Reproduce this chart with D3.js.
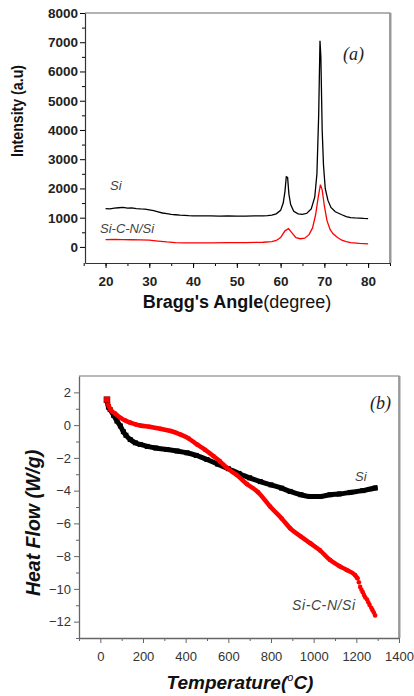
<!DOCTYPE html>
<html>
<head>
<meta charset="utf-8">
<script src="https://cdn.jsdelivr.net/npm/d3@7"></script>
<style>
  body { margin: 0; background: #fff; }
  svg { display: block; }
  .tick text { font-family: Arial, "Liberation Sans", sans-serif; }
</style>
</head>
<body>
<svg id="chart" width="414" height="696"></svg>
<script>
// ---- data ----
// (a) XRD patterns
const xrdAngleSi = [20, 21, 22, 23, 24, 25, 26, 27, 28, 29, 30, 31, 32, 33, 34, 35, 36, 37, 38, 39, 40, 42, 44, 46, 48, 50, 52, 54, 56, 57, 58, 59, 60, 60.6, 61, 61.3, 61.6, 61.9, 62.3, 63, 64, 65, 66, 67, 67.8, 68.3, 68.7, 69, 69.2, 69.5, 69.8, 70.2, 70.8, 71.5, 72.5, 74, 75, 76, 77, 78, 79, 80];
const xrdSi = [1310, 1300, 1330, 1340, 1350, 1330, 1335, 1310, 1300, 1295, 1270, 1240, 1200, 1160, 1135, 1110, 1100, 1085, 1080, 1070, 1065, 1060, 1065, 1050, 1060, 1050, 1055, 1060, 1060, 1070, 1090, 1130, 1250, 1500, 1900, 2400, 2380, 1800, 1450, 1220, 1130, 1110, 1150, 1300, 1700, 2500, 4500, 7050, 6500, 4000, 2800, 2000, 1600, 1350, 1200, 1100, 1040, 1000, 990, 985, 975, 970];
const xrdAngleSiCN = [20, 22, 24, 26, 28, 30, 32, 34, 36, 38, 40, 44, 48, 52, 56, 58, 59, 60, 61, 61.8, 62.5, 63.5, 64.5, 65.5, 66.5, 67.3, 68, 68.6, 69.1, 69.5, 70, 70.6, 71.3, 72, 73, 74, 75, 76, 78, 80];
const xrdSiCN = [250, 260, 250, 245, 240, 230, 200, 170, 150, 140, 140, 140, 145, 150, 160, 180, 220, 320, 550, 630, 500, 320, 280, 300, 420, 650, 1100, 1700, 2130, 1950, 1400, 900, 600, 450, 320, 230, 180, 150, 120, 105];

// (b) heat flow curves
const dscTempSi = [31, 38, 46, 62, 78, 94, 108, 120, 140, 164, 187, 220, 260, 312, 360, 406, 450, 500, 550, 600, 650, 700, 750, 800, 850, 890, 940, 984, 1030, 1077, 1120, 1171, 1230, 1288];
const dscSi = [1.5, 1.1, 0.95, 0.6, 0.25, -0.05, -0.4, -0.62, -0.88, -1.08, -1.18, -1.3, -1.4, -1.49, -1.58, -1.69, -1.85, -2.1, -2.38, -2.66, -2.95, -3.22, -3.45, -3.65, -3.85, -4.05, -4.25, -4.36, -4.36, -4.25, -4.2, -4.11, -4.0, -3.84];
const dscTempSiCN = [31, 40, 47, 70, 94, 117, 140, 164, 187, 230, 281, 330, 375, 415, 453, 490, 531, 560, 593, 640, 687, 740, 796, 850, 890, 940, 984, 1030, 1077, 1120, 1155, 1194, 1205, 1212, 1218, 1224, 1230, 1236, 1242, 1250, 1256, 1262, 1270, 1276, 1282, 1288];
const dscSiCN = [1.55, 1.17, 0.96, 0.7, 0.45, 0.28, 0.15, 0.05, -0.02, -0.1, -0.22, -0.36, -0.57, -0.82, -1.18, -1.5, -1.9, -2.2, -2.61, -3.05, -3.6, -4.1, -4.97, -5.7, -6.3, -6.8, -7.21, -7.65, -8.24, -8.6, -8.85, -9.16, -9.35, -9.6, -9.88, -10.05, -10.2, -10.38, -10.52, -10.65, -10.82, -10.98, -11.15, -11.3, -11.45, -11.62];

// ticks
const xTicksA = [20, 30, 40, 50, 60, 70, 80];
const yTicksA = [0, 1000, 2000, 3000, 4000, 5000, 6000, 7000, 8000];
const xTicksB = [0, 200, 400, 600, 800, 1000, 1200, 1400];
const yTicksB = [-12, -10, -8, -6, -4, -2, 0, 2];

const svg = d3.select("#chart");
const sans = 'Arial, "Liberation Sans", sans-serif';
const serif = '"Times New Roman", "Liberation Serif", serif';
const plain = d3.format("d");

// ================= panel (a) =================
const a = { left: 85, right: 390, top: 13, bottom: 263 };
const xA = d3.scaleLinear().domain([15.3, 85]).range([a.left, a.right]);
const yA = d3.scaleLinear().domain([-550, 8000]).range([a.bottom, a.top]);

// top / right frame
svg.append("path")
  .attr("d", `M${a.left},${a.top}H${a.right}V${a.bottom}`)
  .attr("fill", "none").attr("stroke", "#666").attr("stroke-width", 1.2);
svg.append("line")
  .attr("x1", a.right + 0.5).attr("x2", a.right + 0.5)
  .attr("y1", a.top).attr("y2", a.bottom)
  .attr("stroke", "#999").attr("stroke-width", 2);

// minor ticks
svg.append("g").attr("transform", `translate(${a.left},0)`)
  .call(d3.axisLeft(yA).tickValues(d3.range(500, 8000, 1000)).tickSize(3).tickSizeOuter(0).tickFormat(""))
  .call(g => g.select(".domain").remove());
svg.append("g").attr("transform", `translate(0,${a.bottom})`)
  .call(d3.axisBottom(xA).tickValues(d3.range(15, 86, 5)).tickSize(3).tickSizeOuter(0).tickFormat(""))
  .call(g => g.select(".domain").remove());

// major axes
const yAxisA = svg.append("g").attr("transform", `translate(${a.left},0)`)
  .call(d3.axisLeft(yA).tickValues(yTicksA).tickFormat(plain).tickSize(5).tickSizeOuter(0).tickPadding(2));
const xAxisA = svg.append("g").attr("transform", `translate(0,${a.bottom})`)
  .call(d3.axisBottom(xA).tickValues(xTicksA).tickFormat(plain).tickSize(5).tickSizeOuter(0).tickPadding(4));
[yAxisA, xAxisA].forEach(g => {
  g.selectAll("text").style("font-size", "13.5px").style("font-weight", "bold").attr("fill", "#222");
  g.select(".domain").attr("stroke", "#333").attr("stroke-width", 1.2);
});
xAxisA.selectAll("text").attr("dy", "1em");

const lineA = d3.line().x(d => xA(d[0])).y(d => yA(d[1]));
svg.append("path")
  .datum(d3.zip(xrdAngleSi, xrdSi))
  .attr("d", lineA).attr("fill", "none").attr("stroke", "#000").attr("stroke-width", 1.3);
svg.append("path")
  .datum(d3.zip(xrdAngleSiCN, xrdSiCN))
  .attr("d", lineA).attr("fill", "none").attr("stroke", "#ff0000").attr("stroke-width", 1.3);

// labels
svg.append("text")
  .attr("transform", "translate(23,111) rotate(-90)")
  .attr("text-anchor", "middle")
  .attr("textLength", 92).attr("lengthAdjust", "spacingAndGlyphs")
  .style("font-family", sans).style("font-weight", "bold").style("font-size", "17px")
  .attr("fill", "#111")
  .text("Intensity (a.u)");

const xtA = svg.append("text")
  .attr("x", 237).attr("y", 308).attr("text-anchor", "middle")
  .style("font-family", sans).style("font-size", "18px").attr("fill", "#111");
xtA.append("tspan").style("font-weight", "bold").text("Bragg's Angle");
xtA.append("tspan").text("(degree)");

svg.append("text").attr("x", 110).attr("y", 190)
  .style("font-family", sans).style("font-style", "italic").style("font-size", "13px")
  .attr("fill", "#444").text("Si");
svg.append("text").attr("x", 100).attr("y", 233)
  .style("font-family", sans).style("font-style", "italic").style("font-size", "13px")
  .attr("fill", "#444").text("Si-C-N/Si");
svg.append("text").attr("x", 343).attr("y", 60)
  .style("font-family", serif).style("font-style", "italic").style("font-size", "18px")
  .attr("fill", "#222").text("(a)");

// ================= panel (b) =================
const b = { left: 79, right: 399, top: 376, bottom: 638 };
const xB = d3.scaleLinear().domain([-100, 1400]).range([b.left, b.right]);
const yB = d3.scaleLinear().domain([-13, 3]).range([b.bottom, b.top]);

svg.append("path")
  .attr("d", `M${b.left},${b.top}H${b.right}V${b.bottom}`)
  .attr("fill", "none").attr("stroke", "#777").attr("stroke-width", 1.2);
svg.append("line")
  .attr("x1", b.right + 0.5).attr("x2", b.right + 0.5)
  .attr("y1", b.top).attr("y2", b.bottom)
  .attr("stroke", "#999").attr("stroke-width", 2);

svg.append("g").attr("transform", `translate(${b.left},0)`)
  .call(d3.axisLeft(yB).tickValues(d3.range(-13, 3, 2)).tickSize(3).tickSizeOuter(0).tickFormat(""))
  .call(g => g.select(".domain").remove())
  .selectAll("line").attr("stroke", "#666");
svg.append("g").attr("transform", `translate(0,${b.bottom})`)
  .call(d3.axisBottom(xB).tickValues(d3.range(-100, 1400, 200)).tickSize(3).tickSizeOuter(0).tickFormat(""))
  .call(g => g.select(".domain").remove())
  .selectAll("line").attr("stroke", "#666");

const yAxisB = svg.append("g").attr("transform", `translate(${b.left},0)`)
  .call(d3.axisLeft(yB).tickValues(yTicksB).tickFormat(plain).tickSize(5).tickSizeOuter(0).tickPadding(3));
const xAxisB = svg.append("g").attr("transform", `translate(0,${b.bottom})`)
  .call(d3.axisBottom(xB).tickValues(xTicksB).tickFormat(plain).tickSize(5).tickSizeOuter(0).tickPadding(5));
[yAxisB, xAxisB].forEach(g => {
  g.selectAll("text").style("font-size", "13px").attr("fill", "#333");
  g.selectAll(".tick line").attr("stroke", "#666");
  g.select(".domain").attr("stroke", "#666").attr("stroke-width", 1.3);
});
xAxisB.selectAll("text").attr("dy", "1em");

const siPts = d3.zip(dscTempSi, dscSi);
const sicnPts = d3.zip(dscTempSiCN, dscSiCN);
const lineB = d3.line().curve(d3.curveMonotoneX).x(d => xB(d[0])).y(d => yB(d[1]));

svg.append("path").datum(siPts).attr("d", lineB)
  .attr("fill", "none").attr("stroke", "#000").attr("stroke-width", 5).attr("stroke-linecap", "square");
svg.selectAll(".sq").data(siPts).join("rect").attr("class", "sq")
  .attr("x", d => xB(d[0]) - 2.5).attr("y", d => yB(d[1]) - 2.5)
  .attr("width", 5).attr("height", 5).attr("fill", "#000");

svg.append("path").datum(sicnPts.filter(d => d[0] <= 1206)).attr("d", lineB)
  .attr("fill", "none").attr("stroke", "#ff0000").attr("stroke-width", 4.5).attr("stroke-linecap", "round");
svg.selectAll(".dot").data(sicnPts).join("circle").attr("class", "dot")
  .attr("cx", d => xB(d[0])).attr("cy", d => yB(d[1]))
  .attr("r", 2.3).attr("fill", "#ff0000");
// first point drawn as a square (overlapping start)
svg.append("rect")
  .attr("x", xB(dscTempSiCN[0]) - 3).attr("y", yB(dscSiCN[0]) - 3)
  .attr("width", 6).attr("height", 6).attr("fill", "#ff0000").attr("stroke", "#800").attr("stroke-width", 0.6);

svg.append("text")
  .attr("transform", "translate(40,523) rotate(-90)")
  .attr("text-anchor", "middle")
  .style("font-family", sans).style("font-weight", "bold").style("font-style", "italic").style("font-size", "19.5px")
  .attr("fill", "#111")
  .text("Heat Flow (W/g)");

const xtB = svg.append("text")
  .attr("x", 240).attr("y", 689).attr("text-anchor", "middle")
  .style("font-family", sans).style("font-weight", "bold").style("font-style", "italic").style("font-size", "19px")
  .attr("fill", "#111");
xtB.append("tspan").text("Temperature(");
xtB.append("tspan").attr("dy", -8).style("font-size", "11px").style("font-weight", "normal").text("o");
xtB.append("tspan").attr("dy", 8).text("C)");

svg.append("text").attr("x", 355).attr("y", 481)
  .style("font-family", sans).style("font-style", "italic").style("font-size", "13px")
  .attr("fill", "#444").text("Si");
svg.append("text").attr("x", 292).attr("y", 610)
  .style("font-family", sans).style("font-style", "italic").style("font-size", "14px")
  .style("letter-spacing", "0.6px")
  .attr("fill", "#444").text("Si-C-N/Si");
svg.append("text").attr("x", 370).attr("y", 409)
  .style("font-family", serif).style("font-style", "italic").style("font-size", "18px")
  .attr("fill", "#222").text("(b)");
</script>
</body>
</html>
